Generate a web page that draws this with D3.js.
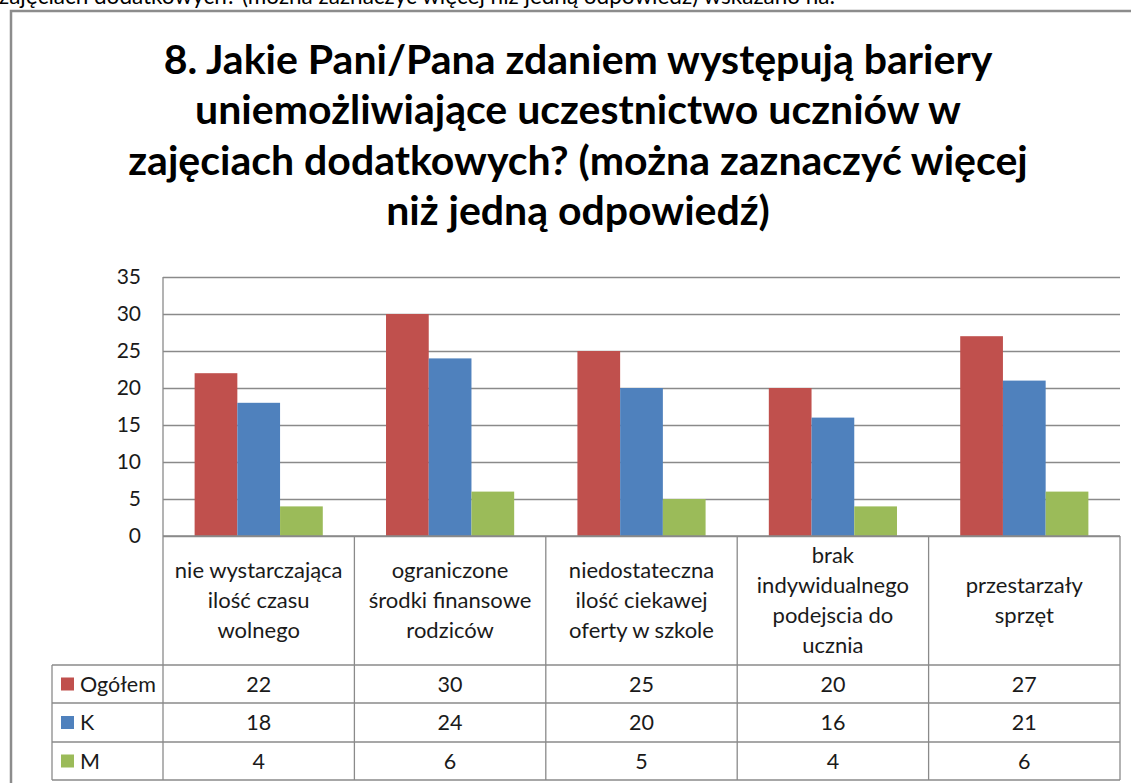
<!DOCTYPE html>
<html><head><meta charset="utf-8">
<script src="https://cdn.jsdelivr.net/npm/d3@7"></script>
<style>
html,body{margin:0;padding:0;background:#fff;overflow:hidden;}
svg{display:block;}
</style>
</head><body>
<svg id="c" width="1131" height="783"></svg>
<script>
const titleLines = ["8. Jakie Pani/Pana zdaniem występują bariery","uniemożliwiające uczestnictwo uczniów w","zajęciach dodatkowych? (można zaznaczyć więcej","niż jedną odpowiedź)"];
const topCutText = "zajęciach dodatkowych? (można zaznaczyć więcej niż jedną odpowiedź) wskazano na:";
const categories = [
  ["nie wystarczająca","ilość czasu","wolnego"],
  ["ograniczone","środki finansowe","rodziców"],
  ["niedostateczna","ilość ciekawej","oferty w szkole"],
  ["brak","indywidualnego","podejscia do","ucznia"],
  ["przestarzały","sprzęt"]
];
const seriesNames = ["Ogółem","K","M"];
const seriesColors = ["#C0504D","#4F81BD","#9BBB59"];
const ogolem = [22,30,25,20,27];
const kobiety = [18,24,20,16,21];
const mezczyzni = [4,6,5,4,6];
const yTicks = [0,5,10,15,20,25,30,35];

const series = [ogolem, kobiety, mezczyzni];
const font = "Lato, 'Noto Sans', sans-serif";
const txt = "#1a1a1a";
const lineCol = "#8a8a8a";

const svg = d3.select("#c");

// top text of the page, cut off by the top edge as in the reference
svg.append("text").attr("x",-1).attr("y",4).attr("font-family",font).attr("font-size",22.5)
  .attr("fill","#000").text(topCutText);

// chart frame
svg.append("path").attr("d","M11,783 L11,11 L1140,11").attr("fill","none")
  .attr("stroke","#8c8c8c").attr("stroke-width",2.5);

// title
const title = svg.append("text").attr("text-anchor","middle").attr("font-family",font)
  .attr("font-weight","bold").attr("font-size",41).attr("fill","#000");
titleLines.forEach((l,i)=>{
  title.append("tspan").attr("x",578).attr("y",74+i*50.3).text(l);
});

const plotL=163, plotR=1120, plotT=277, plotB=536;
const x = d3.scaleBand().domain(d3.range(categories.length)).range([plotL,plotR]).paddingInner(0).paddingOuter(0);
const y = d3.scaleLinear().domain([0,35]).range([plotB,plotT]);
const xs = d3.scaleBand().domain(d3.range(series.length)).range([0,x.bandwidth()]).paddingOuter(0.74).paddingInner(0);

// gridlines
const yAxis = d3.axisLeft(y).tickValues(yTicks).tickSize(-(plotR-plotL)).tickPadding(22);
const ga = svg.append("g").attr("transform",`translate(${plotL},0)`).call(yAxis);
ga.select(".domain").remove();
ga.selectAll(".tick line").attr("stroke",lineCol).attr("stroke-width",1.3);
ga.selectAll(".tick text").attr("font-family",font).attr("font-size",21).attr("fill",txt);
svg.append("line").attr("x1",plotL).attr("x2",plotL).attr("y1",plotT).attr("y2",plotB)
  .attr("stroke",lineCol).attr("stroke-width",1.3);

// bars
series.forEach((vals,si)=>{
  svg.append("g").selectAll("rect").data(vals).join("rect")
    .attr("x",(d,i)=>x(i)+xs(si))
    .attr("width",xs.bandwidth())
    .attr("y",d=>y(d))
    .attr("height",d=>y(0)-y(d))
    .attr("fill",seriesColors[si]);
});

// table
const rowTops=[665,703,742,780];
const tableL=52;
const tbl = svg.append("g").attr("stroke",lineCol).attr("stroke-width",1.3);
tbl.append("line").attr("x1",plotL).attr("x2",plotR).attr("y1",plotB).attr("y2",plotB);
rowTops.forEach(ry=>{
  tbl.append("line").attr("x1",tableL).attr("x2",plotR).attr("y1",ry).attr("y2",ry);
});
d3.range(categories.length+1).forEach(i=>{
  const xx = i<categories.length ? x(i) : plotR;
  tbl.append("line").attr("x1",xx).attr("x2",xx).attr("y1",plotB).attr("y2",rowTops[3]);
});
tbl.append("line").attr("x1",tableL).attr("x2",tableL).attr("y1",rowTops[0]).attr("y2",rowTops[3]);

// category labels
const catMid = (plotB+rowTops[0])/2;
categories.forEach((lines,i)=>{
  const t = svg.append("text").attr("text-anchor","middle").attr("font-family",font)
    .attr("font-size",22).attr("fill",txt);
  const lh=30;
  lines.forEach((l,j)=>{
    t.append("tspan").attr("x",x(i)+x.bandwidth()/2)
      .attr("y",catMid+(j-(lines.length-1)/2)*lh).attr("dy","0.35em").text(l);
  });
});

// data rows
series.forEach((vals,si)=>{
  const cy=(rowTops[si]+rowTops[si+1])/2;
  svg.append("rect").attr("x",61).attr("y",cy-6.5).attr("width",13).attr("height",13).attr("fill",seriesColors[si]);
  svg.append("text").attr("x",80).attr("y",cy).attr("dy","0.35em").attr("font-family",font)
    .attr("font-size",21.5).attr("fill",txt).text(seriesNames[si]);
  svg.append("g").selectAll("text").data(vals).join("text")
    .attr("x",(d,i)=>x(i)+x.bandwidth()/2).attr("y",cy).attr("dy","0.35em")
    .attr("text-anchor","middle").attr("font-family",font).attr("font-size",21.5).attr("fill",txt)
    .text(d=>d);
});
</script>
</body></html>
